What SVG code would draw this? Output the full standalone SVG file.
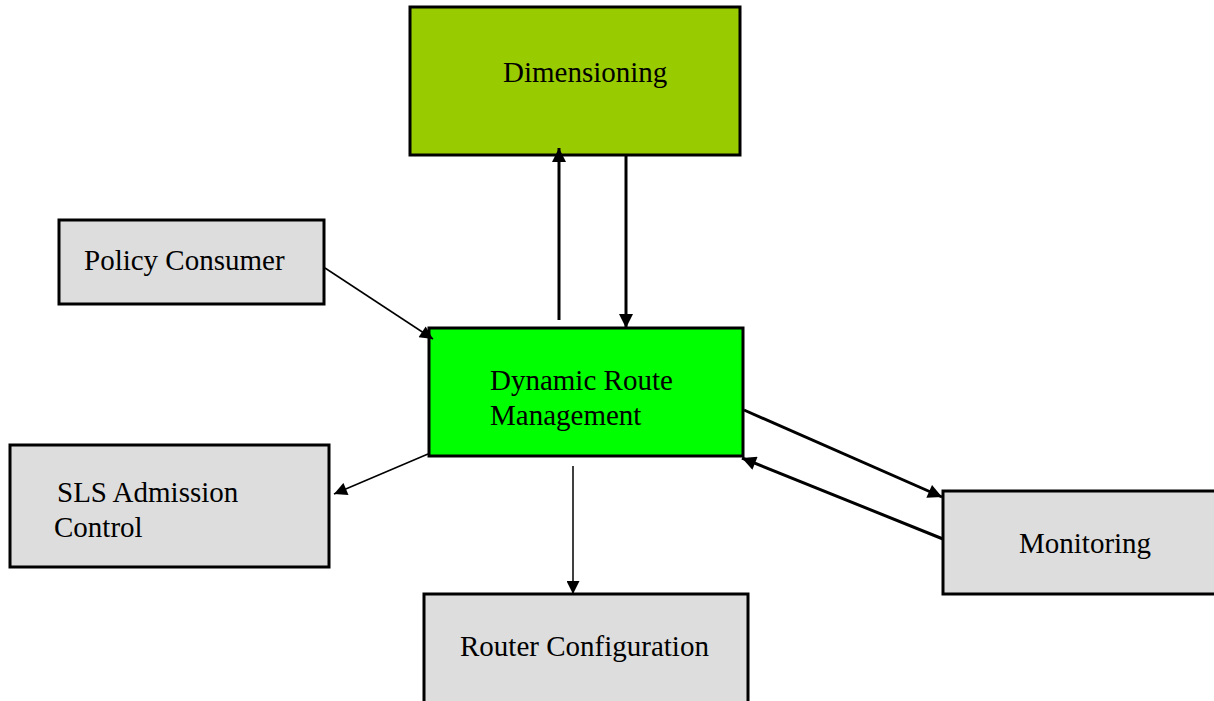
<svg xmlns="http://www.w3.org/2000/svg" width="1214" height="701" viewBox="0 0 1214 701">
<style>
.box{stroke:#000;stroke-width:3}
.grey{fill:#dddddd}
.lbl{font-family:"Liberation Serif","Times New Roman",serif;font-size:29px;fill:#000}
.thick{stroke:#000;stroke-width:3;fill:none}
.thin{stroke:#000;stroke-width:1.5;fill:none}
</style>
<defs>
<marker id="ah" viewBox="0 0 10 10" refX="10" refY="5" markerWidth="16" markerHeight="14" markerUnits="userSpaceOnUse" orient="auto"><path d="M0,0 L10,5 L0,10 z" fill="#000"/></marker>
<marker id="ahs" viewBox="0 0 10 10" refX="10" refY="5" markerWidth="15" markerHeight="13" markerUnits="userSpaceOnUse" orient="auto"><path d="M0,0 L10,5 L0,10 z" fill="#000"/></marker>
</defs>
<g id="dimensioning"><rect class="box" x="410" y="7" width="330" height="148" fill="#99cc00"/><text class="lbl" x="503" y="82">Dimensioning</text></g>
<g id="policy"><rect class="box grey" x="59" y="220" width="265" height="84"/><text class="lbl" x="84" y="270">Policy Consumer</text></g>
<g id="drm"><rect class="box" x="429" y="328" width="314" height="128" fill="#00ff00"/><text class="lbl" x="490" y="390">Dynamic Route</text><text class="lbl" x="490" y="425">Management</text></g>
<g id="sls"><rect class="box grey" x="10" y="445" width="319" height="122"/><text class="lbl" x="57" y="502">SLS Admission</text><text class="lbl" x="54" y="537">Control</text></g>
<g id="monitoring"><rect class="box grey" x="943" y="491" width="275" height="103"/><text class="lbl" x="1019" y="553">Monitoring</text></g>
<g id="router"><rect class="box grey" x="424" y="594" width="324" height="120"/><text class="lbl" x="460" y="656">Router Configuration</text></g>
<g id="connectors">
<line class="thick" x1="559" y1="320" x2="559" y2="148" marker-end="url(#ah)"/>
<line class="thick" x1="626" y1="155" x2="626" y2="328" marker-end="url(#ah)"/>
<line class="thin" x1="325" y1="268" x2="433" y2="339" marker-end="url(#ahs)"/>
<line class="thin" x1="428" y1="454" x2="334" y2="494" marker-end="url(#ahs)"/>
<line class="thick" x1="744" y1="410" x2="942" y2="497" marker-end="url(#ah)"/>
<line class="thick" x1="943" y1="539" x2="742" y2="458" marker-end="url(#ah)"/>
<line class="thin" x1="573" y1="466" x2="573" y2="594" marker-end="url(#ahs)"/>
</g>
</svg>
